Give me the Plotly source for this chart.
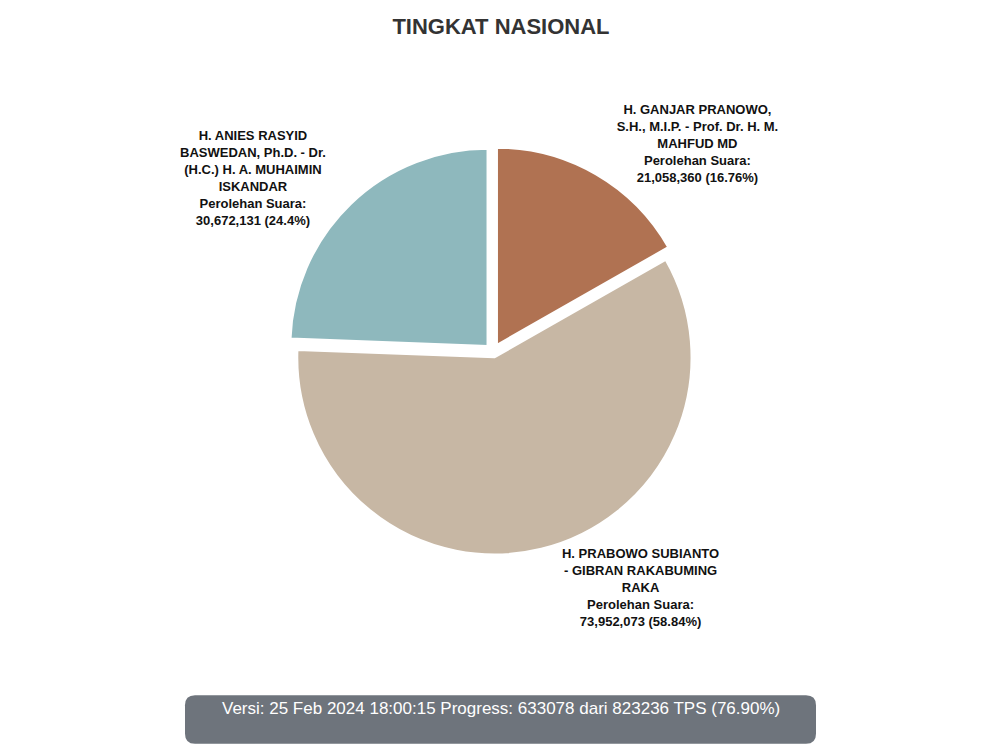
import plotly.graph_objects as go

names = ["H. GANJAR PRANOWO,<br>S.H., M.I.P. - Prof. Dr. H. M.<br>MAHFUD MD",
         "H. PRABOWO SUBIANTO<br>- GIBRAN RAKABUMING<br>RAKA",
         "H. ANIES RASYID<br>BASWEDAN, Ph.D. - Dr.<br>(H.C.) H. A. MUHAIMIN<br>ISKANDAR"]
votes = [21058360, 73952073, 30672131]
pcts = ["16.76%", "58.84%", "24.4%"]
colors = ["#B07252", "#C7B7A4", "#8EB8BD"]

texts = [f"<b>{n}<br>Perolehan Suara:<br>{v:,} ({p})</b>" for n, v, p in zip(names, votes, pcts)]

fig = go.Figure(go.Pie(
    labels=[n.replace("<br>", " ") for n in names], values=votes,
    text=texts, textinfo="text", textposition="outside",
    hoverinfo="label+value+percent",
    marker=dict(colors=colors, line=dict(color="white", width=2)),
    sort=False, direction="clockwise", rotation=0,
    pull=[0.04, 0.03, 0.04],
    textfont=dict(family="Liberation Sans, Arial", size=13, color="#111"),
    outsidetextfont=dict(family="Liberation Sans, Arial", size=13, color="#111"),
    domain=dict(x=[0.28, 0.69], y=[0.245, 0.835]),
    automargin=False,
))
fig.update_layout(
    width=1000, height=747, margin=dict(l=0, r=0, t=0, b=0),
    paper_bgcolor="white", showlegend=False,
    title=dict(text="<b>TINGKAT NASIONAL</b>", x=0.493, xanchor="center", y=0.975, yanchor="middle",
               font=dict(family="Liberation Sans, Arial", size=22, color="#333")),
)
# rounded footer box
x0, x1, y0, y1, r = 0.177, 0.808, 0.015, 0.08, 0.01
ry = r * 1000 / 747
path = (f"M {x0+r},{y0} L {x1-r},{y0} Q {x1},{y0} {x1},{y0+ry} L {x1},{y1-ry} Q {x1},{y1} {x1-r},{y1} "
        f"L {x0+r},{y1} Q {x0},{y1} {x0},{y1-ry} L {x0},{y0+ry} Q {x0},{y0} {x0+r},{y0} Z")
fig.add_shape(type="path", path=path, xref="paper", yref="paper", fillcolor="#6E747C", line=dict(width=0))
fig.add_annotation(text="Versi: 25 Feb 2024 18:00:15 Progress: 633078 dari 823236 TPS (76.90%)",
                   x=(x0+x1)/2, y=(y0+y1)/2, xref="paper", yref="paper", showarrow=False,
                   font=dict(family="Liberation Sans, Arial", size=17, color="white"))
fig.write_html("out.html")
